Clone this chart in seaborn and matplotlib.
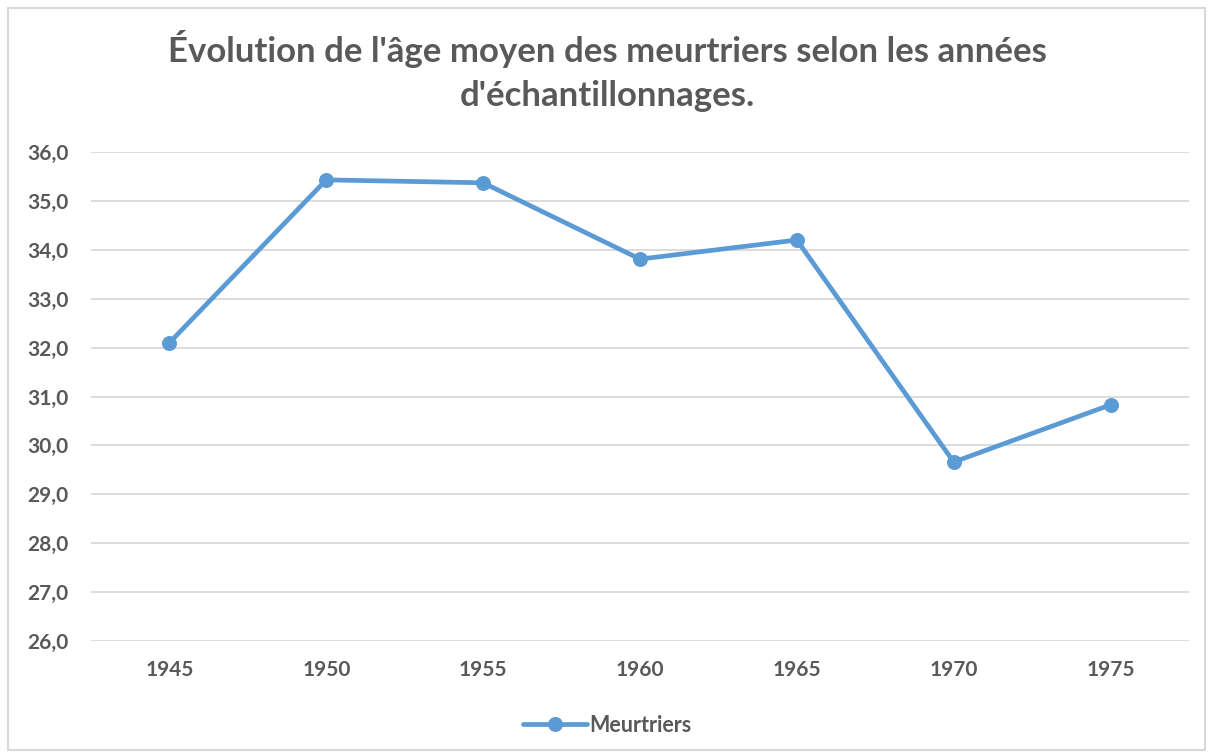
import matplotlib
matplotlib.use("Agg")
import matplotlib.pyplot as plt
import seaborn as sns
import pandas as pd
from matplotlib.patches import Rectangle

years = ["1945", "1950", "1955", "1960", "1965", "1970", "1975"]
ages = [32.1, 35.43, 35.37, 33.81, 34.2, 29.66, 30.83]
series_name = "Meurtriers"
title = "Évolution de l'âge moyen des meurtriers selon les années\nd'échantillonnages."
yticks = [26, 27, 28, 29, 30, 31, 32, 33, 34, 35, 36]

sns.set_style("white")
plt.rcParams['font.family'] = ['Lato', 'DejaVu Sans']
txt = "#595959"
blue = "#5B9BD5"

df = pd.DataFrame({"Année": years, "Âge": ages})

fig = plt.figure(figsize=(12.14, 7.55), dpi=100)
fig.patches.append(Rectangle((8/1214, 1-750/755), (1205-8)/1214, (750-8)/755,
                             transform=fig.transFigure, fill=False,
                             edgecolor="#D9D9D9", linewidth=1.5))
ax = fig.add_axes([91/1214, 1-641/755, (1189-91)/1214, (641-152)/755])

sns.lineplot(data=df, x="Année", y="Âge", ax=ax, color=blue, linewidth=3.4,
             marker="o", markersize=10, markeredgecolor=blue, label=series_name, sort=False)

ax.set_xlim(-0.5, len(years) - 0.5)
ax.set_ylim(26, 36)
ax.set_yticks(yticks)
ax.set_yticklabels([f"{v:.1f}".replace(".", ",") for v in yticks])
ax.grid(axis="y", color="#D9D9D9", linewidth=1.3)
ax.set_axisbelow(True)
for s in ax.spines.values():
    s.set_visible(False)
ax.tick_params(axis="both", length=0, labelsize=15, labelcolor=txt)
ax.tick_params(axis="y", pad=16)
ax.tick_params(axis="x", pad=14)
for lab in ax.get_xticklabels() + ax.get_yticklabels():
    lab.set_fontweight("bold")
ax.set_xlabel("")
ax.set_ylabel("")

fig.suptitle(title, y=1-30/755, fontsize=25, fontweight="bold", color=txt, linespacing=1.45)

leg = ax.legend(loc="center", bbox_to_anchor=(0.5, 1-725/755), bbox_transform=fig.transFigure,
                frameon=False, fontsize=15.5, handlelength=3, handletextpad=0.1)
for t in leg.get_texts():
    t.set_color(txt)
    t.set_fontweight("bold")

fig.savefig("out.png", dpi=100)
